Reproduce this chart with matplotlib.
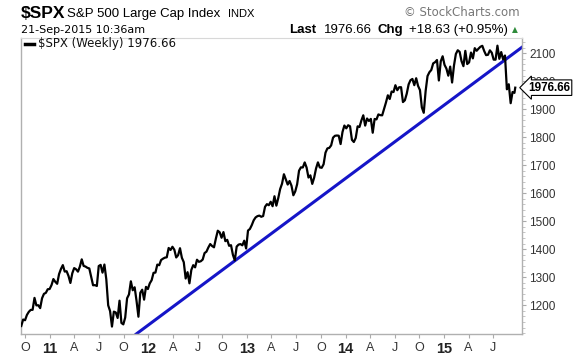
import matplotlib
matplotlib.use("Agg")
import matplotlib.pyplot as plt
import matplotlib.transforms as mtransforms
import numpy as np
import pandas as pd

# weekly closes of $SPX (Fridays from 17-Sep-2010)
closes_2010 = [1125.6, 1148.7, 1146.2, 1165.2, 1176.2, 1183.1, 1183.3, 1225.9,
               1199.2, 1199.7, 1189.4, 1224.7, 1240.4, 1243.9, 1256.8, 1257.6]
closes_2011 = [1271.5, 1293.2, 1283.4, 1276.3, 1310.9, 1329.2, 1343.0, 1319.9,
               1321.2, 1304.3, 1279.2, 1313.8, 1332.4, 1328.2, 1319.7, 1337.4,
               1363.6, 1340.2, 1337.8, 1333.3, 1331.1, 1300.2, 1271.0, 1271.5,
               1268.5, 1339.7, 1343.8, 1316.1, 1345.0, 1292.3, 1199.4, 1178.8,
               1123.5, 1176.8, 1174.0, 1154.2, 1216.0, 1136.4, 1131.4, 1155.5,
               1224.6, 1238.3, 1285.1, 1253.2, 1263.9, 1215.7, 1158.7, 1244.3,
               1255.2, 1219.7, 1265.3, 1257.6]
closes_2012 = [1277.8, 1289.1, 1315.4, 1316.3, 1344.9, 1342.6, 1361.2, 1366.0,
               1369.6, 1370.9, 1404.2, 1397.1, 1408.5, 1398.1, 1370.3, 1378.5,
               1403.4, 1369.1, 1353.4, 1295.2, 1317.8, 1278.0, 1325.7, 1342.8,
               1335.0, 1362.2, 1354.7, 1356.8, 1362.7, 1386.0, 1391.0, 1405.9,
               1418.2, 1411.1, 1406.6, 1437.9, 1465.8, 1460.2, 1440.7, 1460.9,
               1428.6, 1433.2, 1411.9, 1414.2, 1379.9, 1359.9, 1409.2, 1416.2,
               1418.1, 1413.6, 1430.2, 1402.4]
closes_2013 = [1466.5, 1472.1, 1486.0, 1503.0, 1513.2, 1517.9, 1519.8, 1515.6,
               1518.2, 1551.2, 1560.7, 1556.9, 1569.2, 1553.3, 1588.9, 1555.3,
               1582.2, 1614.4, 1633.7, 1667.5, 1649.6, 1630.7, 1643.4, 1626.7,
               1592.4, 1606.3, 1631.9, 1680.2, 1692.1, 1691.7, 1709.7, 1691.4,
               1655.8, 1663.5, 1633.0, 1655.2, 1688.0, 1709.9, 1691.8, 1690.5,
               1703.2, 1744.5, 1759.8, 1761.6, 1770.6, 1798.2, 1804.8, 1805.8,
               1805.1, 1775.3, 1818.3, 1841.4]
closes_2014 = [1831.4, 1842.4, 1838.7, 1790.3, 1782.6, 1797.0, 1838.6, 1836.3,
               1859.5, 1878.0, 1841.1, 1866.5, 1857.6, 1865.1, 1815.7, 1864.9,
               1863.4, 1881.1, 1878.5, 1877.9, 1900.5, 1923.6, 1949.4, 1936.2,
               1962.9, 1961.0, 1985.4, 1967.6, 1978.2, 1978.3, 1925.2, 1931.6,
               1955.1, 1988.4, 2003.4, 2007.7, 1985.5, 2010.4, 1982.9, 1967.9,
               1906.1, 1886.8, 1964.6, 2018.1, 2031.9, 2039.8, 2063.5, 2067.6,
               2075.4, 2002.3, 2070.7, 2088.8]
closes_2015 = [2058.2, 2044.8, 2019.4, 2051.8, 1995.0, 2055.5, 2097.0, 2110.3,
               2104.5, 2071.3, 2053.4, 2108.1, 2061.0, 2067.0, 2102.1, 2081.2,
               2117.7, 2108.3, 2116.1, 2122.7, 2126.1, 2107.4, 2092.8, 2094.1,
               2110.0, 2101.5, 2076.8, 2076.6, 2126.6, 2079.7, 2103.8, 2077.6,
               2091.5, 1970.9, 1988.9, 1921.2, 1961.1, 1958.1]
last_date = "2015-09-21"
last_value = 1976.66

# blue trend line (two points it passes through)
trend_dates = ["2011-11-17", "2015-10-16"]
trend_values = [1097, 2121]

y_ticks = [1200, 1300, 1400, 1500, 1600, 1700, 1800, 1900, 2000, 2100]
x_tick_dates = pd.date_range("2010-10-01", "2015-07-01", freq="QS")
x_tick_labels = []
for d in x_tick_dates:
    if d.month == 1:
        x_tick_labels.append(str(d.year)[2:])
    else:
        x_tick_labels.append({4: "A", 7: "J", 10: "O"}[d.month])

closes = closes_2010 + closes_2011 + closes_2012 + closes_2013 + closes_2014 + closes_2015
dates = list(pd.date_range("2010-09-17", periods=len(closes), freq="W-FRI"))
dates.append(pd.Timestamp(last_date))
closes.append(last_value)

W, H = 576, 356
fig = plt.figure(figsize=(W / 100, H / 100), dpi=100)
ax = fig.add_axes([21 / W, 1 - 334 / H, (522 - 21) / W, (334 - 38) / H])

ax.plot(dates, closes, color="black", lw=1.6, solid_joinstyle="round", zorder=3)
ax.plot(pd.to_datetime(trend_dates), trend_values, color="#1515c8", lw=2.2, zorder=2)

ax.set_xlim(pd.Timestamp("2010-09-16"), pd.Timestamp("2015-10-16"))
ax.set_ylim(1097, 2154)

# y axis on the right
ax.yaxis.tick_right()
ax.set_yticks(y_ticks)
ax.set_yticks(np.arange(1100, 2160, 20), minor=True)
ax.tick_params(axis="y", which="major", length=3, color="#aaaaaa", labelsize=8.5,
               labelcolor="#333333", pad=2)
ax.tick_params(axis="y", which="minor", length=2, color="#bbbbbb")
for lab in ax.get_yticklabels():
    lab.set_fontfamily("Liberation Sans")

ax.set_xticks(x_tick_dates)
ax.set_xticklabels(x_tick_labels)
ax.tick_params(axis="x", length=3, color="#aaaaaa", labelsize=9, labelcolor="#333333", pad=3)
for lab in ax.get_xticklabels():
    lab.set_fontfamily("Liberation Sans")
    if lab.get_text().isdigit():
        lab.set_fontweight("bold")
        lab.set_fontsize(10.5)
        lab.set_color("#222222")

for side in ["left", "bottom", "right"]:
    ax.spines[side].set_color("#b0b0b0")
    ax.spines[side].set_linewidth(1)
ax.spines["top"].set_color("#d8d8d8")
ax.spines["top"].set_linewidth(0.8)

# legend inside the plot
ax.plot([0.008, 0.026], [0.98, 0.98], transform=ax.transAxes, color="black", lw=2.5,
        clip_on=False, zorder=4)
ax.text(0.034, 0.98, "$SPX (Weekly) 1976.66", transform=ax.transAxes, ha="left",
        va="center", fontsize=8.5, family="DejaVu Sans", color="#111111")

# last value box on the right axis
trans = mtransforms.blended_transform_factory(ax.transAxes, ax.transData)
ax.text(1.012, last_value, "1976.66", transform=trans, ha="left", va="center",
        fontsize=8.5, fontweight="bold", family="Liberation Sans", clip_on=False,
        zorder=5, bbox=dict(boxstyle="larrow,pad=0.15", fc="white", ec="black", lw=0.8))

# header texts
def fx(x):
    return x / W

def fy(y):
    return 1 - y / H

fig.text(fx(21), fy(13), "$SPX", fontsize=12.5, fontweight="bold", family="Liberation Sans",
         va="center", ha="left")
fig.text(fx(67), fy(14), "S&P 500 Large Cap Index", fontsize=9.5, family="Liberation Sans",
         va="center", ha="left")
fig.text(fx(228), fy(14), "INDX", fontsize=8, family="Liberation Sans", va="center", ha="left")
fig.text(fx(21), fy(30), "21-Sep-2015 10:36am", fontsize=8, family="DejaVu Sans",
         va="center", ha="left")
fig.text(fx(520), fy(13), "\u00a9 StockCharts.com", fontsize=8.5, family="DejaVu Sans",
         color="#777777", va="center", ha="right")
fig.text(fx(289), fy(30), "Last", fontsize=9.5, fontweight="bold", family="Liberation Sans",
         va="center", ha="left")
fig.text(fx(324), fy(30), "1976.66", fontsize=9.5, family="Liberation Sans", va="center", ha="left")
fig.text(fx(377), fy(30), "Chg", fontsize=9.5, fontweight="bold", family="Liberation Sans",
         va="center", ha="left")
fig.text(fx(409), fy(30), "+18.63 (+0.95%)", fontsize=9.5, family="Liberation Sans",
         va="center", ha="left")
fig.text(fx(512), fy(30), "\u25b2", fontsize=5.5, family="DejaVu Sans", color="#2e8b3a",
         va="center", ha="left")

plt.savefig("out.png", dpi=100, format="png")
